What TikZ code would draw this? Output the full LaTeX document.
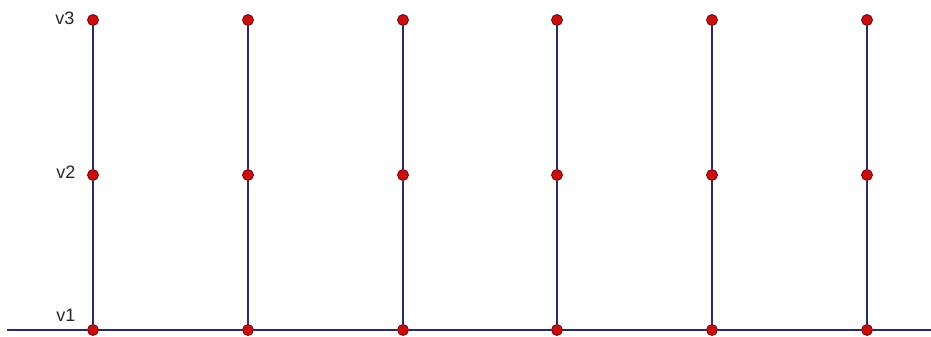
\documentclass[tikz,border=0pt]{standalone}
\usepackage{fontspec}
\setmainfont{Liberation Sans}
\usepackage{xcolor}
\usepackage{tikz}
\usetikzlibrary{positioning}

\definecolor{edgeblue}{RGB}{40,40,115}
\definecolor{dotred}{RGB}{200,15,15}
\definecolor{dotrim}{RGB}{120,0,0}

\begin{document}
\begin{tikzpicture}[
    x=1pt, y=-1pt,
    vert/.style={circle, fill=dotred, draw=dotrim, line width=0.8pt, inner sep=0pt, minimum size=11pt},
    edge/.style={draw=edgeblue, line width=2pt},
    lbl/.style={font=\fontsize{18}{18}\selectfont, text=black!85, inner sep=1pt},
]
\useasboundingbox (0,0) rectangle (931,337);

% vertices in six columns
\foreach \i/\x in {1/93, 2/248, 3/403, 4/557, 5/712, 6/867} {
    \node[vert] (a\i) at (\x, 330) {};
    \node[vert] (b\i) at (\x, 175) {};
    \node[vert] (c\i) at (\x, 20) {};
}

% labels
\node[lbl] (l3) at (65, 18) {v3};
\node[lbl] (l2) at (66, 172) {v2};
\node[lbl] (l1) at (66, 315) {v1};

% base line
\coordinate (west) at (7, 330);
\coordinate (east) at (931, 330);

\foreach \i in {1,...,6} {
    \draw[edge] (a\i) -- (b\i) -- (c\i);
}
\draw[edge] (west) -- (a1) -- (a2) -- (a3) -- (a4) -- (a5) -- (a6) -- (east);

\end{tikzpicture}
\end{document}
